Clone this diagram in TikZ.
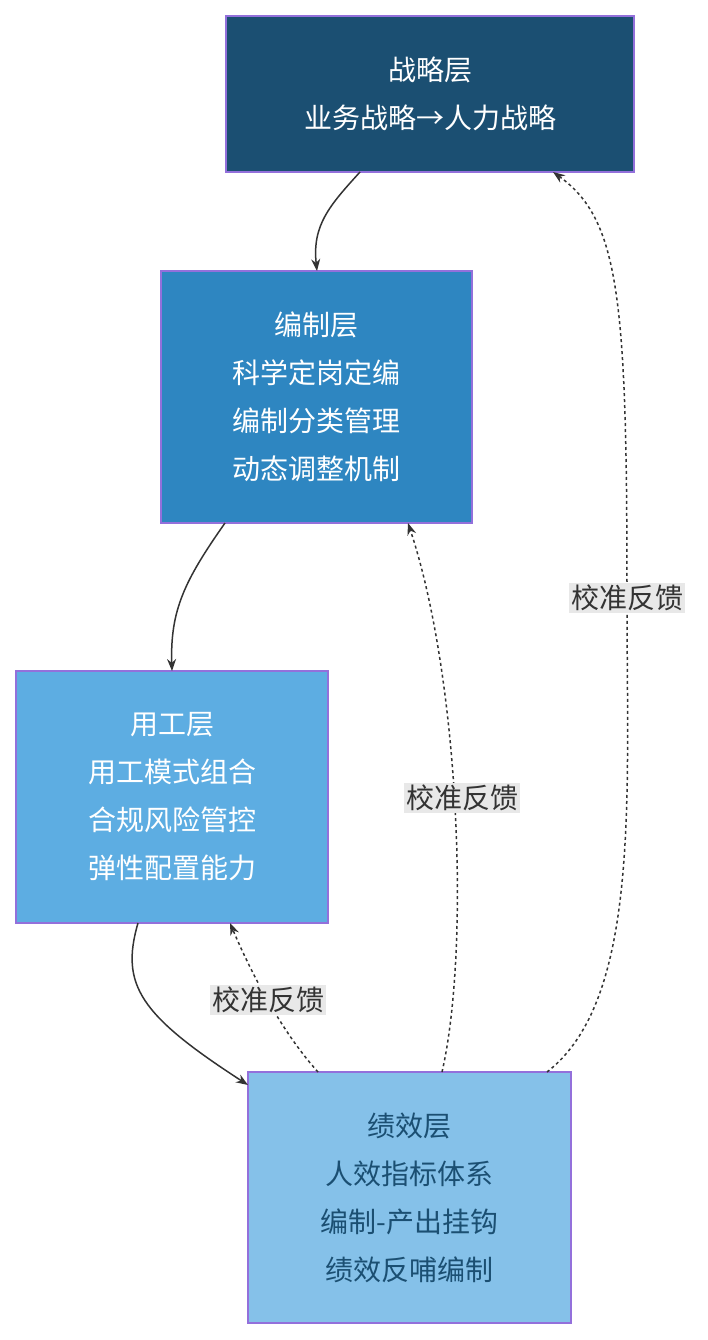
\documentclass[tikz,border=0pt]{standalone}
\usepackage{fontspec}
\setmainfont{Noto Sans CJK SC}
\usetikzlibrary{arrows.meta}
\definecolor{c1}{HTML}{1B4F72}
\definecolor{c2}{HTML}{2E86C1}
\definecolor{c3}{HTML}{5DADE2}
\definecolor{c4}{HTML}{85C1E9}
\definecolor{bd}{HTML}{9370DB}
\definecolor{lbl}{HTML}{E8E8E8}
\definecolor{ln}{HTML}{333333}
\begin{document}
\begin{tikzpicture}[x=1pt,y=-1pt,
  box/.style={draw=bd,line width=1.2pt,align=center,inner sep=0pt,font=\fontsize{28}{48}\selectfont},
  arr/.style={draw=ln,line width=1.5pt,-{Stealth[length=12pt,width=9pt]}},
  fb/.style={arr,dash pattern=on 3pt off 3pt},
  lab/.style={fill=lbl,text=ln,inner sep=2pt,font=\fontsize{28}{34}\selectfont}]
\useasboundingbox (0,0) rectangle (707,1340);
\node[box,fill=c1,text=white,minimum width=408pt,minimum height=156pt] (a) at (430,94) {战略层\\业务战略→人力战略};
\node[box,fill=c2,text=white,minimum width=311pt,minimum height=252pt] (b) at (316.5,397) {编制层\\科学定岗定编\\编制分类管理\\动态调整机制};
\node[box,fill=c3,text=white,minimum width=312pt,minimum height=252pt] (c) at (172,797) {用工层\\用工模式组合\\合规风险管控\\弹性配置能力};
\node[box,fill=c4,text=c1,minimum width=323pt,minimum height=251pt] (d) at (409.5,1197.5) {绩效层\\人效指标体系\\编制-产出挂钩\\绩效反哺编制};
\coordinate (a1) at (360,172); \coordinate (b1) at (317,271);
\coordinate (b2) at (225,523); \coordinate (c1p) at (172,671);
\coordinate (c2p) at (138,923); \coordinate (d1) at (248,1085);
\coordinate (d2) at (318,1072); \coordinate (c3p) at (230,923);
\coordinate (d3) at (442,1072); \coordinate (b3) at (408,523);
\coordinate (d4) at (547,1072); \coordinate (a2) at (553,172);
\draw[arr] (a1) .. controls (330,205) and (312,225) .. (b1);
\draw[arr] (b2) .. controls (185,580) and (170,610) .. (c1p);
\draw[arr] (c2p) .. controls (120,985) and (140,1015) .. (d1);
\draw[fb] (d2) .. controls (280,1030) and (250,970) .. (c3p);
\draw[fb] (d3) .. controls (470,950) and (460,680) .. (b3);
\draw[fb] (d4) .. controls (640,1000) and (627,800) .. (627,600) .. controls (627,300) and (620,220) .. (a2);
\node[lab] (l1) at (268,1000) {校准反馈};
\node[lab] (l2) at (462,798) {校准反馈};
\node[lab] (l3) at (627,598) {校准反馈};
\end{tikzpicture}
\end{document}
